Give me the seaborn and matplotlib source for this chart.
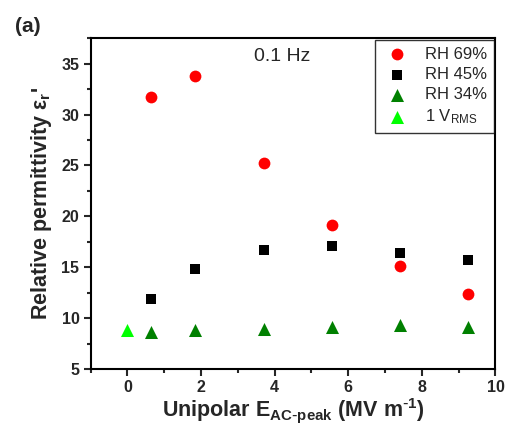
import seaborn as sns
import numpy as np
import pandas as pd
from matplotlib import pyplot as plt
from matplotlib.ticker import MultipleLocator

# field values (MV/m) and permittivity readings at 0.1 Hz
field = [0.65, 1.85, 3.7, 5.55, 7.4, 9.25]
rh69 = [31.7, 33.8, 25.2, 19.2, 15.1, 12.4]
rh45 = [11.9, 14.8, 16.7, 17.1, 16.4, 15.7]
rh34 = [8.65, 8.8, 8.95, 9.15, 9.35, 9.15]
vrms_field = [0.0]
vrms = [8.8]

sns.set_style('ticks')
plt.rcParams['font.family'] = ['Liberation Sans', 'DejaVu Sans']
plt.rcParams['mathtext.default'] = 'regular'
plt.rcParams['axes.linewidth'] = 1.5

fig = plt.figure(figsize=(5.06, 4.28), dpi=100)
ax = fig.add_axes([0.1789, 0.1379, 0.8003, 0.7726])

series = [
    (field, rh69, 'RH 69%', '#FF0000', 'o', 72),
    (field, rh45, 'RH 45%', '#000000', 's', 52),
    (field, rh34, 'RH 34%', '#008000', '^', 88),
    (vrms_field, vrms, '1 V$_{RMS}$', '#00FF00', '^', 88),
]
for xs, ys, name, col, mk, sz in series:
    df = pd.DataFrame({'x': xs, 'y': ys})
    sns.scatterplot(data=df, x='x', y='y', ax=ax, color=col, marker=mk,
                    s=sz, linewidth=0, label=name)

ax.set_xlim(-1, 10)
ax.set_ylim(5, 37.5)
ax.xaxis.set_major_locator(MultipleLocator(2))
ax.xaxis.set_minor_locator(MultipleLocator(1))
ax.yaxis.set_major_locator(MultipleLocator(5))
ax.yaxis.set_minor_locator(MultipleLocator(2.5))
ax.tick_params(which='major', length=5, width=1.5, direction='out',
               labelsize=11.5, pad=3)
ax.tick_params(which='minor', length=3, width=1.5, direction='out')
for lab in ax.get_xticklabels() + ax.get_yticklabels():
    lab.set_fontweight('bold')
for s in ax.spines.values():
    s.set_visible(True)
    s.set_color('black')

ax.set_xlabel(r'Unipolar E$_{AC\text{-}peak}$ (MV m$^{\text{-}1}$)',
              fontsize=15.5, fontweight='bold', labelpad=1)
ax.set_ylabel("Relative permittivity ε$_{r}$'", fontsize=15.5,
              fontweight='bold', labelpad=5)

ax.text(0.473, 0.945, '0.1 Hz', transform=ax.transAxes, fontsize=14,
        ha='center', va='center')
fig.text(0.055, 0.937, '(a)', fontsize=15, fontweight='bold',
         ha='center', va='center')

leg = ax.legend(loc='upper right', bbox_to_anchor=(0.997, 0.995),
                borderaxespad=0, fontsize=12, frameon=True, fancybox=False,
                labelspacing=0.32, handletextpad=0.8, borderpad=0.4,
                handlelength=1.8)
leg.get_frame().set_edgecolor('black')
leg.get_frame().set_linewidth(1.0)

fig.savefig('out.png', dpi=100)
